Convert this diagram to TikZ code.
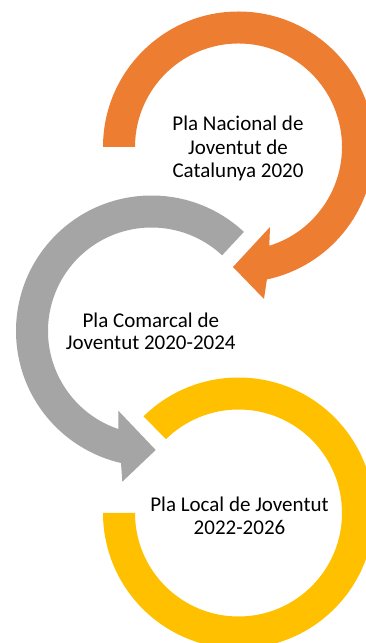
\documentclass[tikz,border=0pt]{standalone}
\usepackage{fontspec}
\setmainfont{Carlito}
\definecolor{orangeA}{HTML}{ED7D31}
\definecolor{grayA}{HTML}{A5A5A5}
\definecolor{yellowA}{HTML}{FFC000}
\begin{document}
\begin{tikzpicture}[x=1pt,y=1pt,
  lbl/.style={anchor=base,inner sep=0pt,font=\fontsize{21}{23.5}\selectfont,text=black}]
\useasboundingbox (0,0) rectangle (366,643);
\clip (0,0) rectangle (366,643);
% centres of the three rings
\coordinate (oc) at (238.5,496);
\coordinate (gc) at (151.5,312);
\coordinate (yc) at (238.5,130);
% orange circular arrow
\fill[orangeA] ([shift={(180:135.5)}]oc) arc[start angle=180,end angle=-77.9,radius=135.5]
  -- (264,344) -- (233,376) -- (270,416)
  -- ([shift={(-72.7:103.5)}]oc) arc[start angle=-72.7,end angle=180,radius=103.5] -- cycle;
% gray circular arrow
\fill[grayA] ([shift={(47:135.5)}]gc) arc[start angle=47,end angle=257,radius=135.5]
  -- (122.3,161.3) -- (155.7,193) -- (118.3,232.3)
  -- ([shift={(251.4:103.5)}]gc) arc[start angle=251.4,end angle=47,radius=103.5] -- cycle;
% yellow ring (no arrowhead)
\fill[yellowA] ([shift={(134.5:135.5)}]yc) arc[start angle=134.5,end angle=-180,radius=135.5]
  -- ([shift={(-180:103.5)}]yc) arc[start angle=-180,end angle=134.5,radius=103.5] -- cycle;
% texts
\node[lbl] (o1) at (238,512) {Pla Nacional de};
\node[lbl] (o2) at (238,488.7) {Joventut de};
\node[lbl] (o3) at (238,465.3) {Catalunya 2020};
\node[lbl] (g1) at (150.8,315.7) {Pla Comarcal de};
\node[lbl] (g2) at (150.8,293) {Joventut 2020-2024};
\node[lbl] (y1) at (239.5,131.3) {Pla Local de Joventut};
\node[lbl] (y2) at (239.5,108) {2022-2026};
\end{tikzpicture}
\end{document}
